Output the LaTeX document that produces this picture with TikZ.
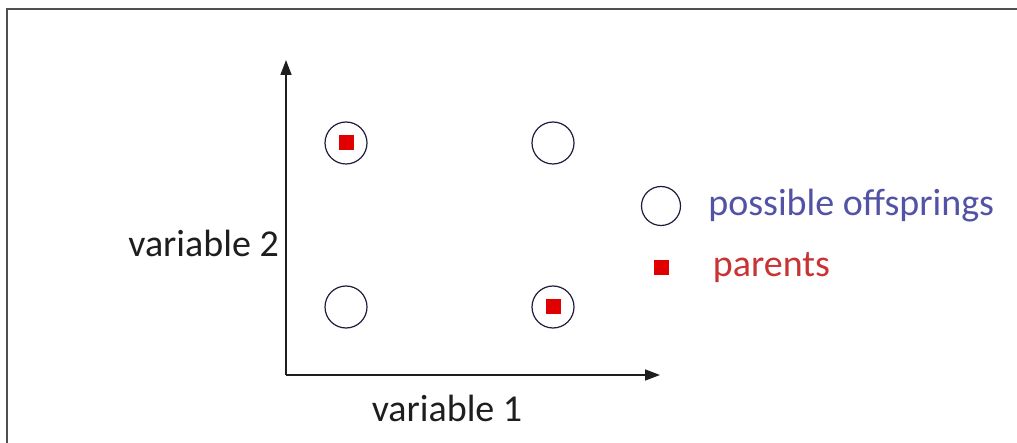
\documentclass[tikz,border=0pt]{standalone}
\usepackage{fontspec}
\setmainfont{Carlito}
\usetikzlibrary{arrows.meta,positioning}
\definecolor{gaink}{HTML}{1E1E1E}
\definecolor{gaframe}{HTML}{505050}
\definecolor{garing}{HTML}{1C1C3C}
\definecolor{gared}{HTML}{E00000}
\definecolor{gablue}{HTML}{5252A6}
\definecolor{gatext}{HTML}{C83434}

\begin{document}
\begin{tikzpicture}[x=1pt, y=-1pt, font=\fontsize{38}{42}\selectfont, >={Triangle[length=15pt,width=11pt]},
  offspring/.style={circle, draw=garing, line width=1.2pt, minimum size=42pt, inner sep=0pt},
  parent/.style={rectangle, fill=gared, minimum size=15pt, inner sep=0pt},
  axis/.style={->, line width=1.6pt, gaink},
  l/.style={text=gaink, inner sep=0pt}]
  \useasboundingbox (0,0) rectangle (1017,443);
  \draw[gaframe, line width=2pt] (7,443) |- (1017,9);
  % axes
  \coordinate (origin) at (286,375);
  \coordinate (ytip) at (286,60);
  \coordinate (xtip) at (660,375);
  \draw[axis] (origin) -- (ytip);
  \draw[axis] (origin) -- (xtip);
  \node[l, anchor=east] (var2) at (279,243) {variable 2};
  \node[l] (var1) at (447,408) {variable 1};
  % grid of offsprings
  \node[offspring] (tl) at (346,143) {};
  \node[offspring] (tr) at (553,143) {};
  \node[offspring] (bl) at (346,307) {};
  \node[offspring] (br) at (553,307) {};
  \node[parent] (ptl) at (tl) {};
  \node[parent] (pbr) at (br) {};
  % legend
  \node[offspring, minimum size=39pt] (legoff) at (661,206) {};
  \node[l, text=gablue, right=27pt of legoff] (legofftext) {possible offsprings};
  \node[parent] (legpar) at (661,268) {};
  \node[l, text=gatext, right=44pt of legpar] (legpartext) {parents};
\end{tikzpicture}
\end{document}
